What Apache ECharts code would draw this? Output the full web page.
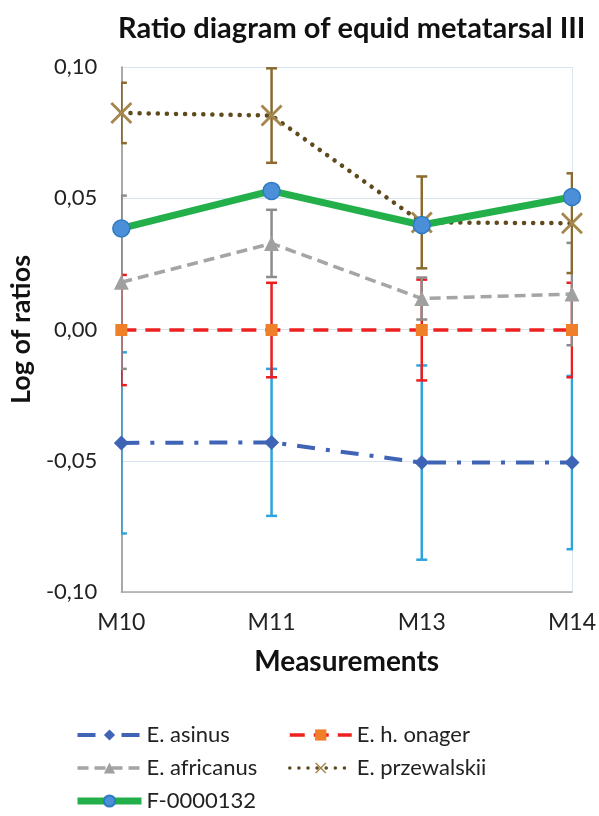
<!DOCTYPE html>
<html>
<head>
<meta charset="utf-8">
<script src="https://cdn.jsdelivr.net/npm/echarts@6/dist/echarts.min.js"></script>
<style>
html,body{margin:0;padding:0;background:#fff;}
#chart{width:599px;height:816px;}
</style>
</head>
<body>
<div id="chart"></div>
<script>
const categories = ['M10', 'M11', 'M13', 'M14'];
const yTickLabels = ['-0,10', '-0,05', '0,00', '0,05', '0,10'];

const asinus = [-0.0432, -0.0430, -0.0507, -0.0507];
const asinusErr = [0.0345, 0.0280, 0.0370, 0.0330];
const onager = [-0.0002, -0.0002, -0.0002, -0.0002];
const onagerErr = [0.0210, 0.0180, 0.0192, 0.0180];
const africanus = [0.0180, 0.0328, 0.0118, 0.0135];
const africanusErr = [0.0330, 0.0128, 0.0080, 0.0195];
const przewalskii = [0.0825, 0.0815, 0.0408, 0.0405];
const przewalskiiErr = [0.0115, 0.0180, 0.0175, 0.0190];
const specimen = [0.0385, 0.0528, 0.0398, 0.0505];

const FONT = 'Lato';

function errData(vals, errs) {
  return vals.map((v, i) => [i, v - errs[i], v + errs[i]]);
}
function errSeries(name, vals, errs, color) {
  return {
    type: 'custom',
    name: name,
    clip: true,
    z: 1,
    data: errData(vals, errs),
    encode: { x: 0, y: [1, 2] },
    renderItem: function (params, api) {
      const i = api.value(0);
      const lo = api.coord([i, api.value(1)]);
      const hi = api.coord([i, api.value(2)]);
      const cw = 5.5;
      const st = { stroke: color, lineWidth: 2.5 };
      return {
        type: 'group',
        children: [
          { type: 'line', shape: { x1: lo[0], y1: lo[1], x2: hi[0], y2: hi[1] }, style: st },
          { type: 'line', shape: { x1: lo[0] - cw, y1: lo[1], x2: lo[0] + cw, y2: lo[1] }, style: st },
          { type: 'line', shape: { x1: hi[0] - cw, y1: hi[1], x2: hi[0] + cw, y2: hi[1] }, style: st }
        ]
      };
    }
  };
}

const xSymbol = 'path://M0,0.9L0.9,0L10,9.1L9.1,10Z M9.1,0L10,0.9L0.9,10L0,9.1Z';

const chart = echarts.init(document.getElementById('chart'), null, { renderer: 'canvas' });
chart.setOption({
  animation: false,
  backgroundColor: '#ffffff',
  title: {
    text: 'Ratio diagram of equid metatarsal III',
    left: 113,
    top: 9,
    textStyle: { fontFamily: FONT, fontWeight: 'bold', fontSize: 29, color: '#111' }
  },
  grid: { left: 120, right: 23, top: 67, bottom: 224, containLabel: false },
  xAxis: {
    type: 'category',
    data: categories,
    boundaryGap: false,
    name: 'Measurements',
    nameLocation: 'middle',
    nameGap: 56,
    nameTextStyle: { fontFamily: FONT, fontWeight: 'bold', fontSize: 28, color: '#111' },
    axisLine: { onZero: false, lineStyle: { color: '#a6a6a6', width: 1.5 } },
    axisTick: { show: false },
    axisLabel: { fontFamily: FONT, fontSize: 23, color: '#222', margin: 19 },
    splitLine: {
      show: true,
      interval: function (index) { return index === categories.length - 1; },
      lineStyle: { color: '#dde6ef', width: 1 }
    }
  },
  yAxis: {
    type: 'value',
    min: -0.1,
    max: 0.1,
    interval: 0.05,
    name: 'Log of ratios',
    nameLocation: 'middle',
    nameGap: 85,
    nameRotate: 90,
    nameTextStyle: { fontFamily: FONT, fontWeight: 'bold', fontSize: 27, color: '#111' },
    axisLine: { show: true, lineStyle: { color: '#8c8c8c', width: 1.5 } },
    axisTick: { show: false },
    axisLabel: {
      fontFamily: FONT, fontSize: 22, color: '#222', margin: 24,
      formatter: function (v) {
        const idx = Math.round((v + 0.1) / 0.05);
        return yTickLabels[idx];
      }
    },
    splitLine: { show: true, lineStyle: { color: '#d6e4f2', width: 1 } }
  },
  legend: [
    {
      orient: 'vertical', left: 74, top: 724, padding: 0, itemWidth: 64, itemHeight: 14, itemGap: 11,
      data: [
        { name: 'E. asinus', lineStyle: { width: 4 } },
        { name: 'E. africanus', lineStyle: { width: 3.5 } },
        { name: 'F-0000132', lineStyle: { width: 7 } }
      ],
      textStyle: { fontFamily: FONT, fontSize: 22, color: '#222' }
    },
    {
      orient: 'vertical', left: 288, top: 724, padding: 0, itemWidth: 62, itemHeight: 14, itemGap: 11,
      data: [
        { name: 'E. h. onager', lineStyle: { width: 3.5 } },
        { name: 'E. przewalskii', lineStyle: { width: 3.5 } }
      ],
      textStyle: { fontFamily: FONT, fontSize: 22, color: '#222' }
    }
  ],
  series: [
    errSeries('errAsinus', asinus, asinusErr, '#2ea3dd'),
    errSeries('errOnager', onager, onagerErr, '#ee1c1c'),
    errSeries('errAfricanus', africanus, africanusErr, '#8c8c8c'),
    errSeries('errPrzewalskii', przewalskii, przewalskiiErr, '#8a6a2e'),
    {
      type: 'line', name: 'E. asinus', data: asinus, z: 3,
      symbol: 'diamond', symbolSize: 15,
      itemStyle: { color: '#3f64b5' },
      lineStyle: { color: '#3f64b5', width: 4, type: [18, 11, 4, 11] }
    },
    {
      type: 'line', name: 'E. h. onager', data: onager, z: 3,
      symbol: 'rect', symbolSize: 12,
      itemStyle: { color: '#f07f2a' },
      lineStyle: { color: '#ee2020', width: 3.5, type: [15, 9] }
    },
    {
      type: 'line', name: 'E. africanus', data: africanus, z: 3,
      symbol: 'triangle', symbolSize: 15,
      itemStyle: { color: '#a0a0a0' },
      lineStyle: { color: '#a5a5a5', width: 3.5, type: [11, 6] }
    },
    {
      type: 'line', name: 'E. przewalskii', data: przewalskii, z: 3,
      symbol: xSymbol, symbolSize: 22,
      itemStyle: { color: '#a4874d' },
      lineStyle: { color: '#5e4a1c', width: 4.5, type: [0.1, 9], cap: 'round' }
    },
    {
      type: 'line', name: 'F-0000132', data: specimen, z: 4,
      symbol: 'circle', symbolSize: 17,
      itemStyle: { color: '#4a8fd8', borderColor: '#2f7bc0', borderWidth: 1.5 },
      lineStyle: { color: '#23b04a', width: 7 }
    }
  ]
});
</script>
</body>
</html>
